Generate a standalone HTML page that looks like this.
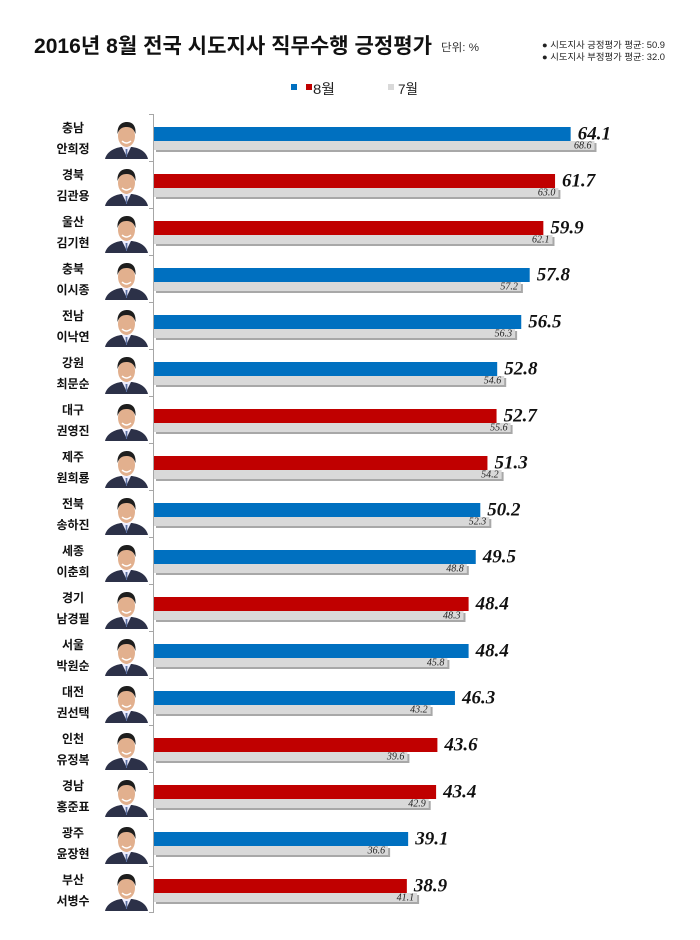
<!DOCTYPE html>
<html><head><meta charset="utf-8"><style>
html,body{margin:0;padding:0;background:#fff;}
svg{display:block;}
.t{font-family:"Liberation Sans","Noto Sans CJK KR",sans-serif;}
.lab{font-family:"Liberation Sans","Noto Sans CJK KR",sans-serif;font-size:12px;font-weight:bold;fill:#111;text-anchor:middle;}
.v{font-family:"Liberation Serif",serif;font-style:italic;font-weight:bold;font-size:19px;fill:#111;}
.g{font-family:"Liberation Serif",serif;font-style:italic;font-size:10px;fill:#222;text-anchor:end;}
</style></head><body>
<svg width="700" height="940" viewBox="0 0 700 940" xmlns="http://www.w3.org/2000/svg">
<defs>
<symbol id="p" viewBox="0 0 47 41">
<rect width="47" height="41" fill="#fff"/>
<path d="M2 41 C4 33 12 30 18 29 L29 29 C36 30 43 33 45 41 Z" fill="#2c3148"/>
<path d="M19 29 L23.5 38 L28 29 Z" fill="#eef"/>
<path d="M22.5 31 L24.5 31 L24 39 L23 39 Z" fill="#5a6fa0"/>
<ellipse cx="23.5" cy="18" rx="8.5" ry="11" fill="#e2b08e"/>
<path d="M14.5 16 C14 6 20 4 24 4 C30 4 33 8 32.5 16 C31 11 28 9 23.5 9 C19 9 16 11 14.5 16 Z" fill="#1e1e1e"/>
<path d="M19 23 Q23.5 27 28 23" stroke="#fff" stroke-width="1.5" fill="none"/>
</symbol>
</defs>

<text class="t" x="34" y="53" font-size="21" font-weight="bold" fill="#111" textLength="398" lengthAdjust="spacingAndGlyphs">2016년 8월 전국 시도지사 직무수행 긍정평가</text>
<text class="t" x="441" y="51" font-size="11" fill="#333" textLength="38" lengthAdjust="spacingAndGlyphs">단위: %</text>
<text class="t" x="542" y="48" font-size="9" fill="#222" textLength="123" lengthAdjust="spacingAndGlyphs">● 시도지사 긍정평가 평균: 50.9</text>
<text class="t" x="542" y="60" font-size="9" fill="#222" textLength="123" lengthAdjust="spacingAndGlyphs">● 시도지사 부정평가 평균: 32.0</text>

<rect x="291" y="84" width="6" height="6" fill="#0070C0"/>
<rect x="306" y="84" width="6" height="6" fill="#C00000"/>
<text class="t" x="313" y="94" font-size="14" fill="#222" textLength="22" lengthAdjust="spacingAndGlyphs">8월</text>
<rect x="388" y="84" width="6" height="6" fill="#D9D9D9"/>
<text class="t" x="398" y="94" font-size="14" fill="#222" textLength="20" lengthAdjust="spacingAndGlyphs">7월</text>

<line x1="153.5" y1="114" x2="153.5" y2="913" stroke="#a6a6a6" stroke-width="1"/>
<g stroke="#a6a6a6" stroke-width="1">
<line x1="149" y1="114.5" x2="153" y2="114.5"/><line x1="149" y1="161.5" x2="153" y2="161.5"/><line x1="149" y1="208.5" x2="153" y2="208.5"/><line x1="149" y1="255.5" x2="153" y2="255.5"/><line x1="149" y1="302.5" x2="153" y2="302.5"/><line x1="149" y1="349.5" x2="153" y2="349.5"/><line x1="149" y1="396.5" x2="153" y2="396.5"/><line x1="149" y1="443.5" x2="153" y2="443.5"/><line x1="149" y1="490.5" x2="153" y2="490.5"/><line x1="149" y1="537.5" x2="153" y2="537.5"/><line x1="149" y1="584.5" x2="153" y2="584.5"/><line x1="149" y1="631.5" x2="153" y2="631.5"/><line x1="149" y1="678.5" x2="153" y2="678.5"/><line x1="149" y1="725.5" x2="153" y2="725.5"/><line x1="149" y1="772.5" x2="153" y2="772.5"/><line x1="149" y1="819.5" x2="153" y2="819.5"/><line x1="149" y1="866.5" x2="153" y2="866.5"/><line x1="149" y1="912.5" x2="153" y2="912.5"/>
</g>

<!-- Row 1 -->
<g transform="translate(0,114)">
<text class="lab" x="73" y="18">충남</text><text class="lab" x="73" y="39">안희정</text>
<use href="#p" x="103" y="4" width="47" height="41"/>
<rect x="156" y="29" width="440.5" height="9" fill="#a8a8a8"/><rect x="154" y="27" width="440.5" height="9" fill="#D9D9D9"/>
<rect x="154" y="13" width="416.65" height="14" fill="#0070C0"/>
<text class="v" x="577.7" y="25.5">64.1</text><text class="g" x="591.5" y="34.5">68.6</text>
</g>
<!-- Row 2 -->
<g transform="translate(0,161)">
<text class="lab" x="73" y="18">경북</text><text class="lab" x="73" y="39">김관용</text>
<use href="#p" x="103" y="4" width="47" height="41"/>
<rect x="156" y="29" width="404.4" height="9" fill="#a8a8a8"/><rect x="154" y="27" width="404.4" height="9" fill="#D9D9D9"/>
<rect x="154" y="13" width="401.05" height="14" fill="#C00000"/>
<text class="v" x="562" y="25.5">61.7</text><text class="g" x="555.4" y="34.5">63.0</text>
</g>
<!-- Row 3 -->
<g transform="translate(0,208)">
<text class="lab" x="73" y="18">울산</text><text class="lab" x="73" y="39">김기현</text>
<use href="#p" x="103" y="4" width="47" height="41"/>
<rect x="156" y="29" width="398.5" height="9" fill="#a8a8a8"/><rect x="154" y="27" width="398.5" height="9" fill="#D9D9D9"/>
<rect x="154" y="13" width="389.35" height="14" fill="#C00000"/>
<text class="v" x="550.4" y="25.5">59.9</text><text class="g" x="549.5" y="34.5">62.1</text>
</g>
<!-- Row 4 -->
<g transform="translate(0,255)">
<text class="lab" x="73" y="18">충북</text><text class="lab" x="73" y="39">이시종</text>
<use href="#p" x="103" y="4" width="47" height="41"/>
<rect x="156" y="29" width="366.9" height="9" fill="#a8a8a8"/><rect x="154" y="27" width="366.9" height="9" fill="#D9D9D9"/>
<rect x="154" y="13" width="375.7" height="14" fill="#0070C0"/>
<text class="v" x="536.7" y="25.5">57.8</text><text class="g" x="517.9" y="34.5">57.2</text>
</g>
<!-- Row 5 -->
<g transform="translate(0,302)">
<text class="lab" x="73" y="18">전남</text><text class="lab" x="73" y="39">이낙연</text>
<use href="#p" x="103" y="4" width="47" height="41"/>
<rect x="156" y="29" width="361.1" height="9" fill="#a8a8a8"/><rect x="154" y="27" width="361.1" height="9" fill="#D9D9D9"/>
<rect x="154" y="13" width="367.25" height="14" fill="#0070C0"/>
<text class="v" x="528.3" y="25.5">56.5</text><text class="g" x="512.1" y="34.5">56.3</text>
</g>
<!-- Row 6 -->
<g transform="translate(0,349)">
<text class="lab" x="73" y="18">강원</text><text class="lab" x="73" y="39">최문순</text>
<use href="#p" x="103" y="4" width="47" height="41"/>
<rect x="156" y="29" width="350.2" height="9" fill="#a8a8a8"/><rect x="154" y="27" width="350.2" height="9" fill="#D9D9D9"/>
<rect x="154" y="13" width="343.2" height="14" fill="#0070C0"/>
<text class="v" x="504.2" y="25.5">52.8</text><text class="g" x="501.2" y="34.5">54.6</text>
</g>
<!-- Row 7 -->
<g transform="translate(0,396)">
<text class="lab" x="73" y="18">대구</text><text class="lab" x="73" y="39">권영진</text>
<use href="#p" x="103" y="4" width="47" height="41"/>
<rect x="156" y="29" width="356.6" height="9" fill="#a8a8a8"/><rect x="154" y="27" width="356.6" height="9" fill="#D9D9D9"/>
<rect x="154" y="13" width="342.55" height="14" fill="#C00000"/>
<text class="v" x="503.6" y="25.5">52.7</text><text class="g" x="507.6" y="34.5">55.6</text>
</g>
<!-- Row 8 -->
<g transform="translate(0,443)">
<text class="lab" x="73" y="18">제주</text><text class="lab" x="73" y="39">원희룡</text>
<use href="#p" x="103" y="4" width="47" height="41"/>
<rect x="156" y="29" width="347.6" height="9" fill="#a8a8a8"/><rect x="154" y="27" width="347.6" height="9" fill="#D9D9D9"/>
<rect x="154" y="13" width="333.45" height="14" fill="#C00000"/>
<text class="v" x="494.5" y="25.5">51.3</text><text class="g" x="498.6" y="34.5">54.2</text>
</g>
<!-- Row 9 -->
<g transform="translate(0,490)">
<text class="lab" x="73" y="18">전북</text><text class="lab" x="73" y="39">송하진</text>
<use href="#p" x="103" y="4" width="47" height="41"/>
<rect x="156" y="29" width="335.3" height="9" fill="#a8a8a8"/><rect x="154" y="27" width="335.3" height="9" fill="#D9D9D9"/>
<rect x="154" y="13" width="326.3" height="14" fill="#0070C0"/>
<text class="v" x="487.3" y="25.5">50.2</text><text class="g" x="486.3" y="34.5">52.3</text>
</g>
<!-- Row 10 -->
<g transform="translate(0,537)">
<text class="lab" x="73" y="18">세종</text><text class="lab" x="73" y="39">이춘희</text>
<use href="#p" x="103" y="4" width="47" height="41"/>
<rect x="156" y="29" width="312.8" height="9" fill="#a8a8a8"/><rect x="154" y="27" width="312.8" height="9" fill="#D9D9D9"/>
<rect x="154" y="13" width="321.75" height="14" fill="#0070C0"/>
<text class="v" x="482.8" y="25.5">49.5</text><text class="g" x="463.8" y="34.5">48.8</text>
</g>
<!-- Row 11 -->
<g transform="translate(0,584)">
<text class="lab" x="73" y="18">경기</text><text class="lab" x="73" y="39">남경필</text>
<use href="#p" x="103" y="4" width="47" height="41"/>
<rect x="156" y="29" width="309.5" height="9" fill="#a8a8a8"/><rect x="154" y="27" width="309.5" height="9" fill="#D9D9D9"/>
<rect x="154" y="13" width="314.6" height="14" fill="#C00000"/>
<text class="v" x="475.6" y="25.5">48.4</text><text class="g" x="460.5" y="34.5">48.3</text>
</g>
<!-- Row 12 -->
<g transform="translate(0,631)">
<text class="lab" x="73" y="18">서울</text><text class="lab" x="73" y="39">박원순</text>
<use href="#p" x="103" y="4" width="47" height="41"/>
<rect x="156" y="29" width="293.4" height="9" fill="#a8a8a8"/><rect x="154" y="27" width="293.4" height="9" fill="#D9D9D9"/>
<rect x="154" y="13" width="314.6" height="14" fill="#0070C0"/>
<text class="v" x="475.6" y="25.5">48.4</text><text class="g" x="444.4" y="34.5">45.8</text>
</g>
<!-- Row 13 -->
<g transform="translate(0,678)">
<text class="lab" x="73" y="18">대전</text><text class="lab" x="73" y="39">권선택</text>
<use href="#p" x="103" y="4" width="47" height="41"/>
<rect x="156" y="29" width="276.6" height="9" fill="#a8a8a8"/><rect x="154" y="27" width="276.6" height="9" fill="#D9D9D9"/>
<rect x="154" y="13" width="300.95" height="14" fill="#0070C0"/>
<text class="v" x="462" y="25.5">46.3</text><text class="g" x="427.6" y="34.5">43.2</text>
</g>
<!-- Row 14 -->
<g transform="translate(0,725)">
<text class="lab" x="73" y="18">인천</text><text class="lab" x="73" y="39">유정복</text>
<use href="#p" x="103" y="4" width="47" height="41"/>
<rect x="156" y="29" width="253.4" height="9" fill="#a8a8a8"/><rect x="154" y="27" width="253.4" height="9" fill="#D9D9D9"/>
<rect x="154" y="13" width="283.4" height="14" fill="#C00000"/>
<text class="v" x="444.4" y="25.5">43.6</text><text class="g" x="404.4" y="34.5">39.6</text>
</g>
<!-- Row 15 -->
<g transform="translate(0,772)">
<text class="lab" x="73" y="18">경남</text><text class="lab" x="73" y="39">홍준표</text>
<use href="#p" x="103" y="4" width="47" height="41"/>
<rect x="156" y="29" width="274.7" height="9" fill="#a8a8a8"/><rect x="154" y="27" width="274.7" height="9" fill="#D9D9D9"/>
<rect x="154" y="13" width="282.1" height="14" fill="#C00000"/>
<text class="v" x="443.1" y="25.5">43.4</text><text class="g" x="425.7" y="34.5">42.9</text>
</g>
<!-- Row 16 -->
<g transform="translate(0,819)">
<text class="lab" x="73" y="18">광주</text><text class="lab" x="73" y="39">윤장현</text>
<use href="#p" x="103" y="4" width="47" height="41"/>
<rect x="156" y="29" width="234.1" height="9" fill="#a8a8a8"/><rect x="154" y="27" width="234.1" height="9" fill="#D9D9D9"/>
<rect x="154" y="13" width="254.15" height="14" fill="#0070C0"/>
<text class="v" x="415.2" y="25.5">39.1</text><text class="g" x="385.1" y="34.5">36.6</text>
</g>
<!-- Row 17 -->
<g transform="translate(0,866)">
<text class="lab" x="73" y="18">부산</text><text class="lab" x="73" y="39">서병수</text>
<use href="#p" x="103" y="4" width="47" height="41"/>
<rect x="156" y="29" width="263.1" height="9" fill="#a8a8a8"/><rect x="154" y="27" width="263.1" height="9" fill="#D9D9D9"/>
<rect x="154" y="13" width="252.85" height="14" fill="#C00000"/>
<text class="v" x="413.9" y="25.5">38.9</text><text class="g" x="414.1" y="34.5">41.1</text>
</g>
</svg>
</body></html>
